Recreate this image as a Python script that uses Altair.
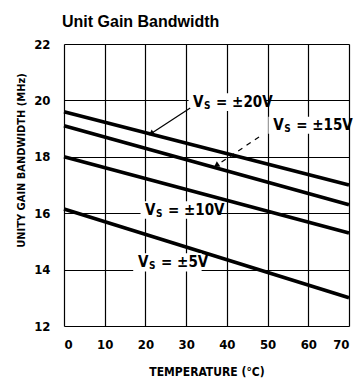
import altair as alt
import pandas as pd

# Data
temps = [0, 70]
vs20 = [19.6, 17.0]
vs15 = [19.1, 16.3]
vs10 = [18.0, 15.3]
vs5 = [16.15, 13.0]
series_names = ["20V", "15V", "10V", "5V"]

rows = []
for name, vals in zip(series_names, [vs20, vs15, vs10, vs5]):
    for t, v in zip(temps, vals):
        rows.append({"series": name, "temp": t, "bw": v})
df = pd.DataFrame(rows)

# Annotation labels (anchor of the "V" in data coords)
lab_names = ["= \u00b120V", "= \u00b115V", "= \u00b110V", "= \u00b15V"]
lab_x = [31.7, 51.4, 19.9, 18.2]
lab_y = [19.94, 19.13, 16.11, 14.27]
box_x1 = [30.6, 50.2, 18.8, 17.0]
box_x2 = [49.4, 68.3, 37.6, 33.8]
box_y1 = [20.25, 19.42, 16.42, 14.58]
box_y2 = [19.62, 18.82, 15.8, 13.93]
labels = pd.DataFrame({"txt": lab_names, "x": lab_x, "y": lab_y,
                       "x1": box_x1, "x2": box_x2, "y1": box_y1, "y2": box_y2})

# Pointer arrows
arrows = pd.DataFrame({
    "x": [31.0, 47.9], "y": [19.73, 18.70],
    "x2": [21.6, 37.6], "y2": [18.84, 17.71],
    "kind": ["solid", "dashed"],
})

FONT = "DejaVu Sans Condensed, Liberation Sans, sans-serif"
TFONT = "Liberation Sans, Arial, sans-serif"

xs = alt.Scale(domain=[0, 70], nice=False)
ys = alt.Scale(domain=[12, 22], nice=False)

xax = alt.Axis(values=[0, 10, 20, 30, 40, 50, 60, 70], title="TEMPERATURE (\u00b0C)",
               grid=True, gridColor="black", gridWidth=1.2, gridOpacity=1,
               ticks=False, domain=False, labelFont=FONT, labelFontWeight="bold",
               labelFontSize=13, labelColor="black", labelPadding=12,
               titleFont=FONT, titleFontWeight="bold", titleFontSize=12,
               titleColor="black", titlePadding=15)
yax = alt.Axis(values=[12, 14, 16, 18, 20, 22], title="UNITY GAIN BANDWIDTH (MHz)",
               grid=True, gridColor="black", gridWidth=1.2, gridOpacity=1,
               ticks=False, domain=False, labelFont=FONT, labelFontWeight="bold",
               labelFontSize=13, labelColor="black", labelPadding=14,
               titleFont=FONT, titleFontWeight="bold", titleFontSize=11,
               titleColor="black", titleX=-38, titleY=116)

base = alt.Chart(df)
lines = base.mark_line(color="black", strokeWidth=3.6, strokeCap="butt").encode(
    x=alt.X("temp:Q", scale=xs, axis=xax),
    y=alt.Y("bw:Q", scale=ys, axis=yax),
    detail="series:N",
)

lab = alt.Chart(labels)
boxes = lab.mark_rect(color="white").encode(
    x=alt.X("x1:Q", scale=xs), x2="x2:Q",
    y=alt.Y("y1:Q", scale=ys), y2="y2:Q",
)
tV = lab.mark_text(text="V", font=FONT, fontWeight="bold", fontSize=15,
                   align="left", baseline="middle", color="black").encode(
    x=alt.X("x:Q", scale=xs), y=alt.Y("y:Q", scale=ys))
tS = lab.mark_text(text="S", font=FONT, fontWeight="bold", fontSize=10,
                   align="left", baseline="middle", color="black", dx=11, dy=4).encode(
    x=alt.X("x:Q", scale=xs), y=alt.Y("y:Q", scale=ys))
tR = lab.mark_text(font=FONT, fontWeight="bold", fontSize=15,
                   align="left", baseline="middle", color="black", dx=23).encode(
    x=alt.X("x:Q", scale=xs), y=alt.Y("y:Q", scale=ys), text="txt:N")

arr = alt.Chart(arrows)
arrow_solid = arr.transform_filter("datum.kind == 'solid'").mark_rule(
    color="black", strokeWidth=1.2).encode(
    x=alt.X("x:Q", scale=xs), y=alt.Y("y:Q", scale=ys), x2="x2:Q", y2="y2:Q")
arrow_dash = arr.transform_filter("datum.kind == 'dashed'").mark_rule(
    color="black", strokeWidth=1.2, strokeDash=[5, 5]).encode(
    x=alt.X("x:Q", scale=xs), y=alt.Y("y:Q", scale=ys), x2="x2:Q", y2="y2:Q")
heads = arr.mark_point(shape="triangle", filled=True, color="black", size=40,
                       opacity=1).encode(
    x=alt.X("x2:Q", scale=xs), y=alt.Y("y2:Q", scale=ys),
    angle=alt.value(236))

chart = alt.layer(lines, boxes, arrow_solid, arrow_dash, heads, tV, tS, tR).properties(
    width=285, height=282,
    title=alt.TitleParams("Unit Gain Bandwidth", anchor="start", frame="group",
                          font=TFONT, fontWeight="bold", fontSize=16, color="black",
                          offset=8, dx=-2),
    autosize=alt.AutoSizeParams(type="none"),
    padding={"left": 56, "top": 36, "right": 5, "bottom": 55},
).configure_view(stroke="black", strokeWidth=2).configure(background="white")

chart.save("out.html", embed_options={"renderer": "svg", "actions": False})
